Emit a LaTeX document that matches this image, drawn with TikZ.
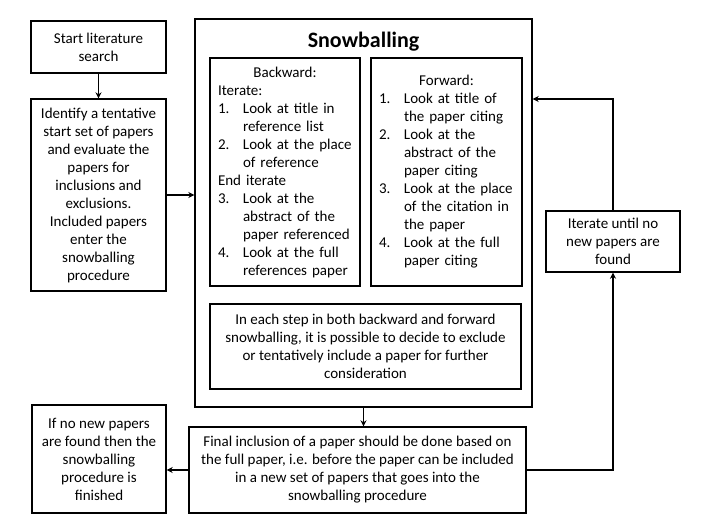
\documentclass[tikz,border=0pt]{standalone}
\usepackage{fontspec}
\setmainfont{Carlito}
\usetikzlibrary{arrows.meta}
\newcommand\nm[1]{\makebox[25pt][l]{#1}}
\newcommand\ind{\hspace*{25pt}}
\tikzset{
  box/.style={draw, line width=1.4pt, inner sep=0pt, align=center,
    font=\fontsize{15}{18}\selectfont},
  listbox/.style={box, align=left},
  arr/.style={line width=1.4pt, -{Stealth[length=6pt,width=6pt]}},
  con/.style={line width=1.4pt}
}
\begin{document}
\begin{tikzpicture}[x=1pt,y=-1pt]
\useasboundingbox (0,0) rectangle (717,525);
\node[box, minimum width=135pt, minimum height=52pt] (start) at (98.5,47)
  {Start literature\\search};
\node[box, minimum width=135pt, minimum height=192pt] (ident) at (98.5,195)
  {Identify a tentative\\start set of papers\\and evaluate the\\papers for\\inclusions and\\exclusions.\\Included papers\\enter the\\snowballing\\procedure};
\node[box, minimum width=337pt, minimum height=388pt] (snow) at (363.5,213) {};
\node[anchor=base, inner sep=0pt, font=\fontsize{22}{26}\selectfont\bfseries] (title) at (363.5,47) {Snowballing};
\node[listbox, text width=134pt, minimum width=150pt, minimum height=228pt] (back) at (285,172)
  {\makebox[134pt]{Backward:}\\
   Iterate:\\
   \nm{1.}Look at title in\\
   \ind reference list\\
   \nm{2.}Look at the place\\
   \ind of reference\\
   End iterate\\
   \nm{3.}Look at the\\
   \ind abstract of the\\
   \ind paper referenced\\
   \nm{4.}Look at the full\\
   \ind references paper};
\node[listbox, text width=135pt, minimum width=151pt, minimum height=228pt] (fwd) at (446.5,172)
  {\makebox[135pt]{Forward:}\\
   \nm{1.}Look at title of\\
   \ind the paper citing\\
   \nm{2.}Look at the\\
   \ind abstract of the\\
   \ind paper citing\\
   \nm{3.}Look at the place\\
   \ind of the citation in\\
   \ind the paper\\
   \nm{4.}Look at the full\\
   \ind paper citing};
\node[box, minimum width=311pt, minimum height=85pt] (cons) at (365.5,346.5)
  {In each step in both backward and forward\\snowballing, it is possible to decide to exclude\\or tentatively include a paper for further\\consideration};
\node[box, minimum width=337pt, minimum height=86pt] (final) at (357.5,470)
  {Final inclusion of a paper should be done based on\\the full paper, i.e. before the paper can be included\\in a new set of papers that goes into the\\snowballing procedure};
\node[box, minimum width=134pt, minimum height=108pt] (ifno) at (99,459)
  {If no new papers\\are found then the\\snowballing\\procedure is\\finished};
\node[box, minimum width=134pt, minimum height=61pt] (iter) at (613,241.5)
  {Iterate until no\\new papers are\\found};
\coordinate (loopy) at (0,99);
\draw[arr] (start) -- (ident);
\draw[arr] (ident.east) -- (ident.east -| snow.west);
\draw[arr] (snow.south) -- (snow.south |- final.north);
\draw[arr] (final.west) -- (final.west -| ifno.east);
\draw[arr] (final.east) -| (iter.south);
\draw[arr] (iter.north) |- (snow.east |- loopy);
\end{tikzpicture}
\end{document}
